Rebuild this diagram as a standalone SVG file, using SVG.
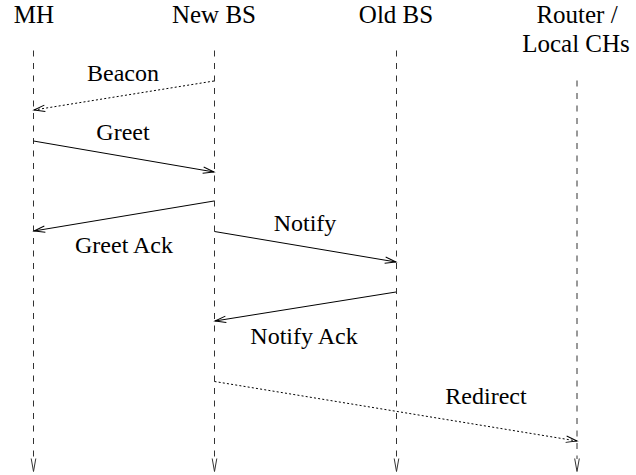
<svg xmlns="http://www.w3.org/2000/svg" width="636" height="475" viewBox="0 0 636 475">
<style>
text{font-family:"Liberation Serif","Times New Roman",serif;fill:#000;text-anchor:middle}
.hdr{font-size:25px}
.lbl{font-size:24px}
.life{stroke:#333;stroke-width:1;stroke-dasharray:6,6.5;fill:none}
.lend{stroke:#333;stroke-width:1;fill:none}
.msg{stroke:#000;stroke-width:1;fill:none;marker-end:url(#arr)}
.dot{stroke-dasharray:2,2.2}
</style>
<defs>
<marker id="arr" markerUnits="userSpaceOnUse" markerWidth="14" markerHeight="10" viewBox="-12 -5 14 10" refX="0" refY="0" orient="auto" overflow="visible">
<path d="M-11,-3.2 L0,0 L-11,3.2" fill="none" stroke="#000" stroke-width="1"/>
</marker>
</defs>
<g id="MH">
<text class="hdr" x="34" y="22.5">MH</text>
<line class="life" x1="33.5" y1="50.5" x2="33.5" y2="459"/>
<path class="lend" d="M31.2,458.5 L33.5,471.5 L35.8,458.5"/>
</g>
<g id="NewBS">
<text class="hdr" x="214" y="22.5">New BS</text>
<line class="life" x1="214.5" y1="50.5" x2="214.5" y2="459"/>
<path class="lend" d="M212.2,458.5 L214.5,471.5 L216.8,458.5"/>
</g>
<g id="OldBS">
<text class="hdr" x="396" y="22.5">Old BS</text>
<line class="life" x1="396.5" y1="50.5" x2="396.5" y2="459"/>
<path class="lend" d="M394.2,458.5 L396.5,471.5 L398.8,458.5"/>
</g>
<g id="Router">
<text class="hdr" x="577" y="22.5">Router /</text>
<text class="hdr" x="576" y="51.5">Local CHs</text>
<line class="life" x1="577" y1="80.5" x2="577" y2="459"/>
<path class="lend" d="M574.7,458.5 L577,471.5 L579.3,458.5"/>
</g>
<g id="connectors">
<line class="msg dot" x1="214" y1="81" x2="34" y2="110"/>
<text class="lbl" x="123" y="81">Beacon</text>
<line class="msg" x1="33.5" y1="141" x2="214" y2="172"/>
<text class="lbl" x="123" y="140">Greet</text>
<line class="msg" x1="214" y1="201" x2="34" y2="231"/>
<text class="lbl" x="124" y="253">Greet Ack</text>
<line class="msg" x1="214.5" y1="231.5" x2="396" y2="262"/>
<text class="lbl" x="305" y="231">Notify</text>
<line class="msg" x1="396" y1="292" x2="215" y2="321"/>
<text class="lbl" x="304" y="344">Notify Ack</text>
<line class="msg dot" x1="214.5" y1="381.5" x2="577" y2="441"/>
<text class="lbl" x="486" y="404">Redirect</text>
</g>
</svg>
